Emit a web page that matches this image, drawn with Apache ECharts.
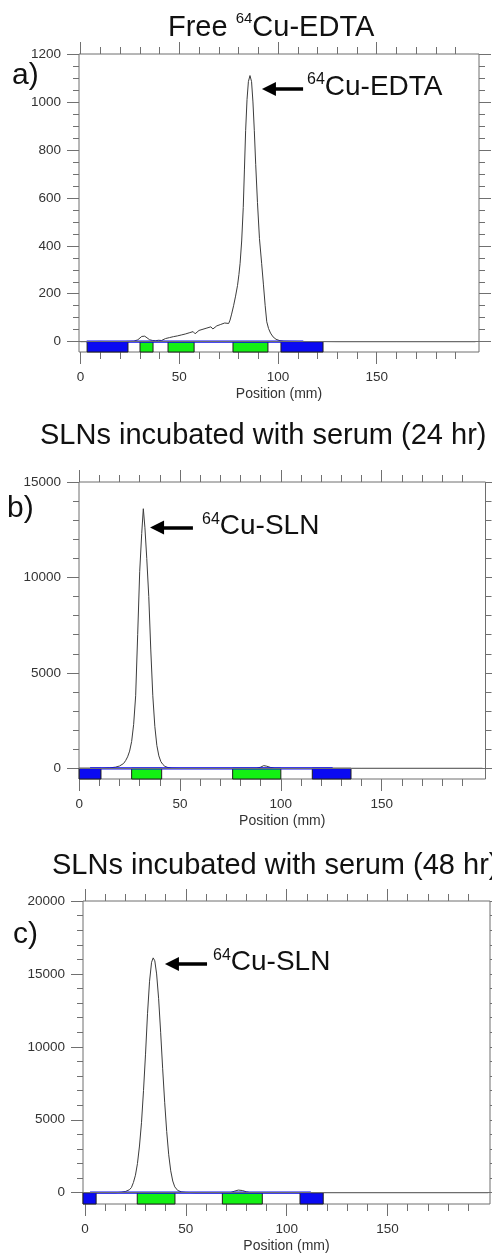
<!DOCTYPE html>
<html>
<head>
<meta charset="utf-8">
<title>Radio-TLC</title>
<script src="https://cdn.jsdelivr.net/npm/echarts@6/dist/echarts.min.js"></script>
<style>
  html, body { margin: 0; padding: 0; background: #fff; }
  #chart { width: 492px; height: 1256px; }
</style>
</head>
<body>
<div id="chart"></div>
<script>
// ---- data (position in mm, counts) ----
var posA = [0, 10, 20, 27, 29, 30, 31, 31.5, 32.5, 33.5, 35, 36.5, 38, 39.5, 41, 42, 43, 44, 45, 46, 47, 48, 49, 50,
  51, 52, 53, 54, 55, 56, 57, 58, 59, 60, 61, 62, 63, 64, 65, 66, 67, 68, 69, 70, 71, 72, 73, 74, 75, 75.7,
  76.5, 77.5, 78.5, 79.5, 80.2, 80.8, 81.6, 82.4, 83, 83.6, 84.3, 85, 85.8, 86.6, 87.3, 88, 88.7, 89.6, 90.6,
  91.7, 92.6, 93.5, 94.3, 95.2, 96.2, 97.5, 99, 101, 103, 110, 130, 160, 200];
var countsA = [0, 1, 0, 2, 8, 16, 22, 25, 23, 15, 8, 5, 4, 6, 5, 9, 13, 10, 17, 14, 21, 15, 24, 19,
  28, 22, 32, 26, 37, 29, 42, 33, 38, 47, 40, 52, 44, 57, 49, 62, 53, 60, 66, 58, 72, 64, 78, 82, 76, 90,
  115, 150, 190, 235, 280, 327, 420, 560, 720, 880, 1010, 1085, 1110, 1085, 1000, 880, 740, 580, 430,
  327, 240, 150, 83, 55, 36, 20, 10, 4, 2, 1, 0, 0, 0];

var posB = [0, 10, 15, 18, 20, 22, 23, 24, 25, 26, 27, 28, 29, 30, 31, 31.8, 32.6, 33.5, 34.5, 35.5, 36.5,
  37.5, 38.5, 39.5, 40.5, 41.5, 42.5, 44, 46, 50, 60, 80, 88, 90, 91.5, 93, 95, 97, 110, 140, 200];
var countsB = [0, 0, 20, 60, 120, 250, 400, 600, 900, 1400, 2300, 3800, 7000, 10300, 12300, 13600, 12600,
  11000, 9000, 6200, 3800, 2200, 1200, 650, 350, 200, 100, 40, 10, 0, 0, 0, 0, 60, 140, 110, 40, 0, 0, 0, 0];

var posC = [0, 15, 18, 20, 22, 23, 24, 25, 26, 27, 28, 29, 30, 31, 32, 33, 33.8, 34.6, 35.5, 36.5, 37.5,
  38.5, 39.5, 40.5, 41.5, 42.5, 43.5, 44.5, 46, 48, 50, 55, 72, 74, 76, 78, 80, 82, 120, 200];
var countsC = [0, 0, 30, 80, 200, 350, 700, 1200, 2000, 3200, 4800, 7000, 9500, 12300, 14500, 15800, 16100,
  15900, 15000, 13300, 11000, 8500, 6200, 4200, 2600, 1500, 800, 400, 150, 50, 20, 0, 0, 100, 180, 150, 60, 0, 0, 0];

// TLC strip segments: [start mm, end mm, kind] (kind 0 = blue, 1 = green)
var stripA = [[3.3, 24, 0], [30.1, 36.7, 1], [44.3, 57.5, 1], [77.2, 94.9, 1], [101.5, 122.8, 0]];
var stripB = [[0, 10.8, 0], [26, 40.9, 1], [76.1, 100, 1], [115.6, 134.8, 0]];
var stripC = [[-1, 5.5, 0], [25.9, 44.6, 1], [68.1, 87.9, 1], [106.6, 118.1, 0]];
var stripLineA = [3.1, 112.8];
var stripLineB = [5.4, 125.7];
var stripLineC = [2.5, 112];

// arrows: [head x, tail x, y]
var arrowA = [95.4, 112.7, 1054];
var arrowB = [38.6, 56.4, 12610];
var arrowC = [43.1, 60.5, 15680];

// tick labels
var xLabels = [0, 50, 100, 150];
var yLabelsA = [0, 200, 400, 600, 800, 1000, 1200];
var yLabelsB = [0, 5000, 10000, 15000];
var yLabelsC = [0, 5000, 10000, 15000, 20000];

var FONT = '"Liberation Sans", Arial, sans-serif';
var AX = '#707070';
var BLUE = '#0a0af2';
var GREEN = '#14f014';

function steps(from, to, step) {
  var out = [];
  for (var v = from; v <= to + 1e-9; v += step) out.push(v);
  return out;
}

function zip(xs, ys) {
  return xs.map(function (x, i) { return [x, ys[i]]; });
}

var panels = [
  { left: 79, right: 13, top: 54, height: 298, xmin: -0.8, xmax: 201.8, ymin: -43, ymax: 1200,
    yLabels: yLabelsA, yMinor: steps(0, 1200, 50), pos: posA, counts: countsA,
    strip: stripA, stripLine: stripLineA, arrow: arrowA },
  { left: 79, right: 6.5, top: 482, height: 297, xmin: -0.1, xmax: 201.5, ymin: -561, ymax: 15000,
    yLabels: yLabelsB, yMinor: steps(0, 15000, 1000), pos: posB, counts: countsB,
    strip: stripB, stripLine: stripLineB, arrow: arrowB },
  { left: 83, right: 2, top: 901, height: 303, xmin: -1, xmax: 200.8, ymin: -775, ymax: 20000,
    yLabels: yLabelsC, yMinor: steps(0, 20000, 1000), pos: posC, counts: countsC,
    strip: stripC, stripLine: stripLineC, arrow: arrowC }
];

var xMinor = steps(0, 190, 10);
var labelStyle = { fontSize: 13.5, color: '#333', fontFamily: FONT };

function numFmt(v) { return String(v); }

var option = {
  animation: false,
  backgroundColor: '#fff',
  grid: [],
  xAxis: [],
  yAxis: [],
  series: [],
  title: []
};

function tick(values, len, inside) {
  return { show: true, customValues: values, length: len, inside: !!inside, lineStyle: { color: AX, width: 1 } };
}

panels.forEach(function (p, g) {
  option.grid.push({
    left: p.left, right: p.right, top: p.top, height: p.height,
    show: true, borderColor: '#6e6e6e', borderWidth: 1
  });

  var xBase = { type: 'value', gridIndex: g, min: p.xmin, max: p.xmax,
    splitLine: { show: false }, axisLine: { show: false, onZero: false } };
  // bottom ticks: axes pushed below the frame with ticks pointing back up to it
  option.xAxis.push(
    Object.assign({}, xBase, {
      position: 'bottom',
      axisTick: { show: false },
      axisLabel: Object.assign({ customValues: xLabels, margin: 18, formatter: numFmt }, labelStyle),
      name: 'Position (mm)', nameLocation: 'middle', nameGap: 35,
      nameTextStyle: { fontSize: 14, color: '#333', fontFamily: FONT }
    }),
    Object.assign({}, xBase, { position: 'bottom', offset: 12, axisTick: tick(xLabels, 12, true), axisLabel: { show: false } }),
    Object.assign({}, xBase, { position: 'bottom', offset: 7, axisTick: tick(xMinor, 7, true), axisLabel: { show: false } }),
    Object.assign({}, xBase, { position: 'top', axisTick: tick(xLabels, 12), axisLabel: { show: false } }),
    Object.assign({}, xBase, { position: 'top', axisTick: tick(xMinor, 7), axisLabel: { show: false } })
  );

  var yBase = { type: 'value', gridIndex: g, min: p.ymin, max: p.ymax,
    splitLine: { show: false }, axisLine: { show: false, onZero: false } };
  option.yAxis.push(
    Object.assign({}, yBase, {
      position: 'left',
      axisTick: tick(p.yLabels, 12),
      axisLabel: Object.assign({ customValues: p.yLabels, margin: 18, formatter: numFmt }, labelStyle)
    }),
    Object.assign({}, yBase, { position: 'left', axisTick: tick(p.yMinor, 6), axisLabel: { show: false } }),
    Object.assign({}, yBase, { position: 'right', axisTick: tick(p.yLabels, 12), axisLabel: { show: false } }),
    Object.assign({}, yBase, { position: 'right', axisTick: tick(p.yMinor, 6), axisLabel: { show: false } })
  );

  var xi = 5 * g, yi = 4 * g;

  // TLC strip rectangles below the zero line
  option.series.push({
    type: 'custom',
    xAxisIndex: xi, yAxisIndex: yi,
    z: 2,
    silent: true,
    data: p.strip,
    renderItem: function (params, api) {
      var a = api.coord([api.value(0), 0]);
      var b = api.coord([api.value(1), 0]);
      var cs = params.coordSys;
      var bottom = cs.y + cs.height;
      return {
        type: 'rect',
        shape: { x: a[0], y: a[1], width: b[0] - a[0], height: bottom - a[1] },
        style: { fill: api.value(2) ? GREEN : BLUE, stroke: '#1e1e1e', lineWidth: 1 }
      };
    }
  });

  // radioactivity trace
  option.series.push({
    type: 'line',
    xAxisIndex: xi, yAxisIndex: yi,
    z: 3,
    data: zip(p.pos, p.counts),
    showSymbol: false,
    silent: true,
    lineStyle: { color: '#3c3c3c', width: 1 },
    markLine: {
      silent: true,
      symbol: ['none', 'none'],
      label: { show: false },
      data: [
        { yAxis: 0, lineStyle: { color: '#6e6e6e', width: 1, type: 'solid' } },
        [
          { coord: [p.arrow[0], p.arrow[2]], symbol: 'triangle', symbolSize: 14,
            lineStyle: { color: '#000', width: 3.5, type: 'solid' } },
          { coord: [p.arrow[1], p.arrow[2]], symbol: 'none' }
        ]
      ]
    }
  });

  // blue top edge of the strip
  option.series.push({
    type: 'line',
    xAxisIndex: xi, yAxisIndex: yi,
    z: 4,
    silent: true,
    data: [[p.stripLine[0], 0], [p.stripLine[1], 0]],
    showSymbol: false,
    lineStyle: { color: BLUE, width: 2.2 }
  });
});

function bigText(fs, lh) {
  return { fontSize: fs, lineHeight: lh, fontFamily: FONT, fontWeight: 'normal', color: '#111' };
}
function supText(fs, lh) {
  return { fontSize: fs, lineHeight: lh, fontFamily: FONT, fontWeight: 'normal', color: '#111', verticalAlign: 'top' };
}

option.title = [
  { text: '{m|Free }{s|64}{m|Cu-EDTA}', left: 168, top: 11.5, padding: 0,
    textStyle: { fontWeight: 'normal', rich: { m: bigText(29, 32), s: supText(15, 28) } } },
  { text: '{m|SLNs incubated with serum (24 hr)}', left: 40, top: 420, padding: 0,
    textStyle: { fontWeight: 'normal', rich: { m: bigText(29, 32) } } },
  { text: '{m|SLNs incubated with serum (48 hr)}', left: 52, top: 850, padding: 0,
    textStyle: { fontWeight: 'normal', rich: { m: bigText(29, 32) } } },
  { text: '{m|a)}', left: 12, top: 59, padding: 0,
    textStyle: { fontWeight: 'normal', rich: { m: bigText(30, 34) } } },
  { text: '{m|b)}', left: 7, top: 492, padding: 0,
    textStyle: { fontWeight: 'normal', rich: { m: bigText(30, 34) } } },
  { text: '{m|c)}', left: 13, top: 918, padding: 0,
    textStyle: { fontWeight: 'normal', rich: { m: bigText(30, 34) } } },
  { text: '{s|64}{m|Cu-EDTA}', left: 307, top: 72, padding: 0,
    textStyle: { fontWeight: 'normal', rich: { m: bigText(28, 30), s: supText(16, 11) } } },
  { text: '{s|64}{m|Cu-SLN}', left: 202, top: 511.5, padding: 0,
    textStyle: { fontWeight: 'normal', rich: { m: bigText(28, 30), s: supText(16, 11) } } },
  { text: '{s|64}{m|Cu-SLN}', left: 213, top: 947.5, padding: 0,
    textStyle: { fontWeight: 'normal', rich: { m: bigText(28, 30), s: supText(16, 11) } } }
];

var chart = echarts.init(document.getElementById('chart'), null, { renderer: 'canvas' });
chart.setOption(option);
</script>
</body>
</html>
